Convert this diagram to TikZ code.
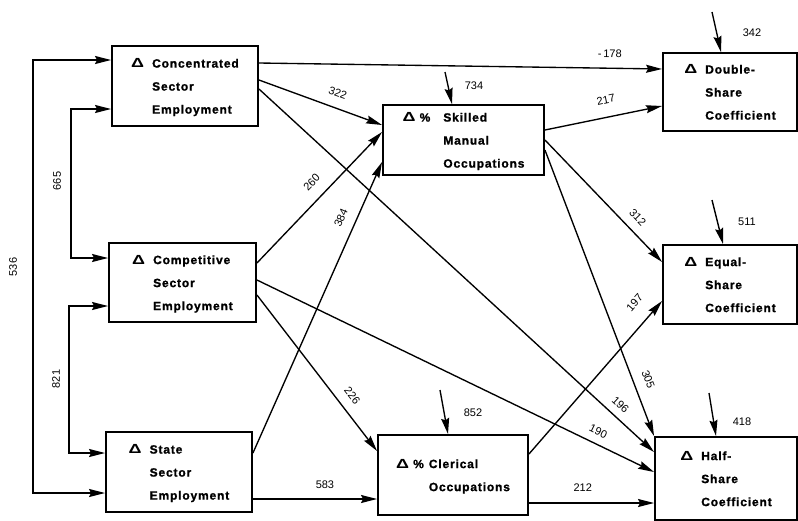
\documentclass[tikz,border=0pt]{standalone}
\usepackage{fontspec}
\setmainfont{Liberation Sans}
\newfontfamily\boxfont[LetterSpace=7,BoldFeatures={FakeBold=1.2}]{Liberation Sans}
\newfontfamily\dltfont{Liberation Sans}
\usetikzlibrary{arrows.meta}
\newcommand{\dlt}{{\dltfont\bfseries\scalebox{1.5}[1.1]{Δ}}}

\begin{document}
\begin{tikzpicture}[x=1pt, y=-1pt,
  box/.style={draw, line width=1.9pt, inner sep=0pt, font=\boxfont\bfseries\fontsize{12}{23}\selectfont},
  arr/.style={line width=1.35pt, -{Stealth[length=16pt,width=8pt,inset=2pt]}},
  biarr/.style={line width=1.5pt, {Stealth[length=16pt,width=8pt,inset=2pt]}-{Stealth[length=16pt,width=8pt,inset=2pt]}},
  coef/.style={font=\fontsize{11}{13}\selectfont, inner sep=1pt}]
  \useasboundingbox (0,0) rectangle (798,520);

  % exogenous sectors
  \node[box, minimum width=146, minimum height=80] (conc) at (185,86)
    {\begin{tabular}{@{}l@{\hspace{8pt}}l@{}}\dlt & Concentrated\\ & Sector\\ & Employment\end{tabular}};
  \node[box, minimum width=147, minimum height=79] (comp) at (182.5,282.5)
    {\begin{tabular}{@{}l@{\hspace{8pt}}l@{}}\dlt & Competitive\\ & Sector\\ & Employment\end{tabular}};
  \node[box, minimum width=146, minimum height=80] (state) at (179,472)
    {\begin{tabular}{@{}l@{\hspace{8pt}}l@{}}\dlt & State\\ & Sector\\ & Employment\end{tabular}};

  % occupations
  \node[box, minimum width=161, minimum height=70] (skill) at (463.5,140)
    {\begin{tabular}{@{}l@{\hspace{13pt}}l@{}}\dlt\ \% & Skilled\\ & Manual\\ & Occupations\end{tabular}};
  \node[box, minimum width=150, minimum height=80] (cler) at (453,475)
    {\begin{tabular}{@{}l@{\hspace{5pt}}l@{}}\dlt\ \% & Clerical\\ & Occupations\end{tabular}};

  % coefficients
  \node[box, minimum width=134, minimum height=78] (dbl) at (730,92)
    {\begin{tabular}{@{}l@{\hspace{8pt}}l@{}}\dlt & Double-\\ & Share\\ & Coefficient\end{tabular}};
  \node[box, minimum width=134, minimum height=79] (eql) at (730,284.5)
    {\begin{tabular}{@{}l@{\hspace{8pt}}l@{}}\dlt & Equal-\\ & Share\\ & Coefficient\end{tabular}};
  \node[box, minimum width=142, minimum height=83] (half) at (726,478.5)
    {\begin{tabular}{@{}l@{\hspace{8pt}}l@{}}\dlt & Half-\\ & Share\\ & Coefficient\end{tabular}};

  % correlations
  \coordinate (v536) at (33,270);
  \coordinate (v665) at (71,180);
  \coordinate (v821) at (69,380);
  \draw[biarr] ([yshift=26pt]conc.west) -| (v536) |- ([yshift=-21pt]state.west);
  \draw[biarr] ([yshift=-23pt]conc.west) -| (v665) |- ([yshift=24.5pt]comp.west);
  \draw[biarr] ([yshift=-23.5pt]comp.west) -| (v821) |- ([yshift=19pt]state.west);
  \node[coef, rotate=90] (l536) at (13,267) {536};
  \node[coef, rotate=90] (l665) at (57,181) {665};
  \node[coef, rotate=90] (l821) at (56,379) {821};

  % paths
  \draw[arr] ([yshift=23pt]conc.east) -- node[coef, sloped, pos=0.87, above=9pt] (l178) {-\,178} ([yshift=23pt]dbl.west);
  \draw[arr] ([yshift=6pt]conc.east) -- node[coef, sloped, pos=0.60, above=9pt] (l322) {322} ([yshift=15pt]skill.west);
  \draw[arr] ([yshift=-3pt]conc.east) -- node[coef, sloped, pos=0.894, above=6.5pt] (l196) {196} ([yshift=26.5pt]half.west);
  \draw[arr] ([yshift=19.5pt]comp.east) -- node[coef, sloped, pos=0.53, above=10.5pt] (l260) {260} ([yshift=8pt]skill.west);
  \draw[arr] ([yshift=2.5pt]comp.east) -- node[coef, sloped, pos=0.846, above=6.7pt] (l190) {190} ([yshift=6.5pt]half.west);
  \draw[arr] ([yshift=-12.5pt]comp.east) -- node[coef, sloped, pos=0.70, above=8.7pt] (l226) {226} ([yshift=24pt]cler.west);
  \draw[arr] ([yshift=19pt]state.east) -- node[coef, sloped, pos=0.787, above=9.4pt] (l384) {384} ([yshift=-22pt]skill.west);
  \draw[arr] ([yshift=-27pt]state.east) -- node[coef, pos=0.58, above=9pt] (l583) {583} ([yshift=-24pt]cler.west);
  \draw[arr] ([yshift=10pt]skill.east) -- node[coef, sloped, pos=0.55, above=12pt] (l217) {217} ([yshift=-14pt]dbl.west);
  \draw[arr] (skill.east) -- node[coef, sloped, pos=0.71, above=7.7pt] (l312) {312} ([yshift=22.5pt]eql.west);
  \draw[arr] ([yshift=-10pt]skill.east) -- node[coef, sloped, pos=0.82, above=9.2pt] (l305) {305} (half.north west);
  \draw[arr] ([yshift=21pt]cler.east) -- node[coef, sloped, pos=0.905, above=14pt] (l197) {197} ([yshift=-16.5pt]eql.west);
  \draw[arr] ([yshift=-28pt]cler.east) -- node[coef, pos=0.43, above=10pt] (l212) {212} ([yshift=-24.5pt]half.west);

  % residuals
  \foreach \tgt/\sx/\sy/\dx/\lx/\ly/\val in {skill/445/72/-11.5/474/86/734, dbl/712/12/-9/752/33/342,
      eql/712/200/-7/747/222/511, cler/440/390/-5/473/413/852, half/709/393/-10/742/422/418} {
    \coordinate (e\val) at (\sx,\sy);
    \draw[arr] (e\val) -- ([xshift=\dx pt]\tgt.north);
    \node[coef] (l\val) at (\lx,\ly) {\val};
  }
\end{tikzpicture}
\end{document}
